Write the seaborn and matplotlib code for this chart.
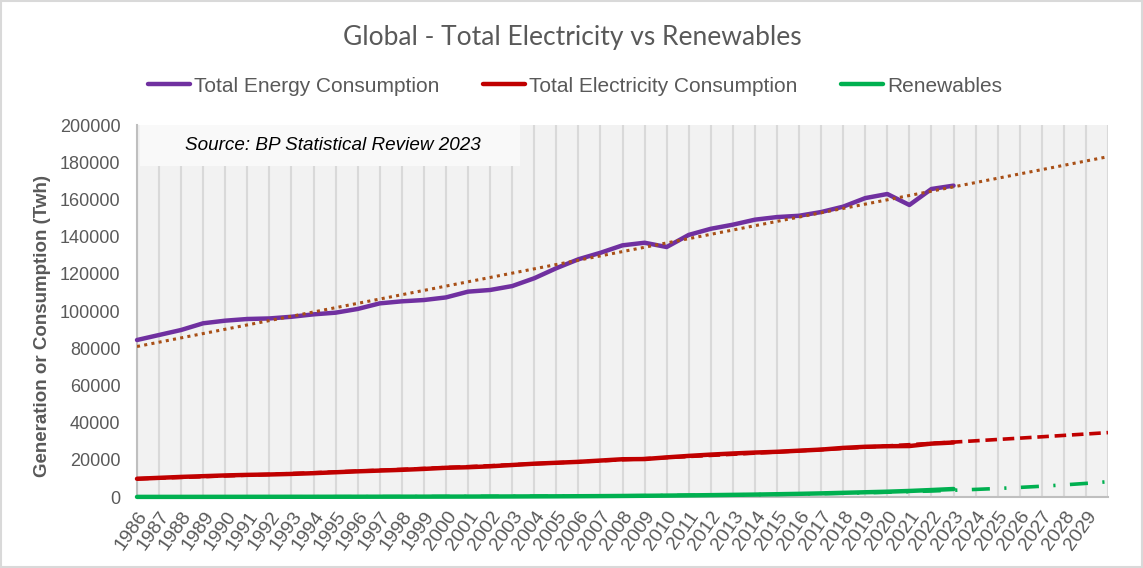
import numpy as np
import pandas as pd
import matplotlib
matplotlib.use("Agg")
import matplotlib.pyplot as plt
from matplotlib.lines import Line2D
from matplotlib.patches import Rectangle
import seaborn as sns

# data (TWh)
years = list(range(1986, 2024))
tick_years = list(range(1986, 2031))
tick_labels = [str(y) for y in range(1986, 2030)] + [""]

total_energy = [84400, 87100, 89800, 93400, 94800, 95700, 96000, 96900, 98200, 99100,
                101100, 104100, 105200, 105900, 107300, 110400, 111300, 113400, 117600, 123000,
                127800, 131300, 135300, 136700, 134400, 140900, 144200, 146400, 149100, 150500,
                151200, 153200, 156100, 160700, 162900, 157000, 165600, 167400]
total_electricity = [9800, 10300, 10800, 11200, 11600, 11900, 12100, 12400, 12800, 13300,
                     13800, 14200, 14600, 15100, 15700, 16000, 16500, 17200, 17900, 18400,
                     18900, 19600, 20300, 20400, 21300, 22100, 22800, 23400, 23900, 24300,
                     24900, 25500, 26400, 27000, 27300, 27400, 28700, 29300]
renewables = [60, 65, 70, 80, 90, 100, 110, 115, 125, 135,
              145, 160, 175, 190, 210, 230, 260, 290, 330, 370,
              420, 480, 560, 650, 750, 870, 1000, 1150, 1300, 1500,
              1700, 1950, 2250, 2550, 2850, 3250, 3750, 4300]

series_names = ["Total Energy Consumption", "Total Electricity Consumption", "Renewables"]
series_colors = ["#7030A0", "#C00000", "#00B050"]

df = pd.DataFrame({
    "Year": years * 3,
    "Value": total_energy + total_electricity + renewables,
    "Series": [n for n in series_names for _ in years],
})

sns.set_theme(style="white")
plt.rcParams["font.family"] = ["Liberation Sans", "DejaVu Sans"]

fig = plt.figure(figsize=(11.43, 5.68), dpi=100)
ax = fig.add_axes([137 / 1143, 1 - 497 / 568, (1108 - 137) / 1143, (497 - 125) / 568])
ax.set_facecolor("#F2F2F2")

sns.lineplot(data=df, x="Year", y="Value", hue="Series",
             palette=dict(zip(series_names, series_colors)),
             linewidth=3.2, ax=ax, legend=False)
for line in ax.lines:
    line.set_clip_on(False)
    line.set_solid_capstyle("round")
    line.set_zorder(3)

# trendlines (linear, polynomial, exponential), forecast to 2030
yr = np.array(years) - 1986
tx = np.array(tick_years) - 1986
energy_trend = np.polyval(np.polyfit(yr, total_energy, 1), tx)
elec_trend = np.polyval(np.polyfit(yr, total_electricity, 2), tx)
ren_trend = np.exp(np.polyval(np.polyfit(yr, np.log(renewables), 1), tx))

sns.lineplot(x=tick_years, y=energy_trend, color="#A84F16", linewidth=2.2,
             linestyle=(0, (1, 1.4)), ax=ax, zorder=4)
sns.lineplot(x=tick_years, y=elec_trend, color="#C00000", linewidth=2.6,
             linestyle=(0, (3.2, 1.6)), ax=ax, zorder=4)
sns.lineplot(x=tick_years, y=ren_trend, color="#00B050", linewidth=2.6,
             linestyle=(0, (5, 4, 0.6, 4)), ax=ax, zorder=4)

ax.set_xlim(1986, 2030)
ax.set_ylim(0, 200000)
ax.set_yticks(range(0, 200001, 20000))
ax.set_xticks(tick_years)
ax.set_xticklabels(tick_labels, rotation=55, ha="right", rotation_mode="anchor")
ax.set_xlabel("")
ax.set_ylabel("")
ax.grid(axis="x", color="#D9D9D9", linewidth=1.5)
ax.grid(axis="y", visible=False)
ax.set_axisbelow(True)
ax.tick_params(axis="both", length=0, colors="#595959")
ax.tick_params(axis="y", pad=12, labelsize=13)
ax.tick_params(axis="x", pad=8, labelsize=14)
for s in ["top", "right"]:
    ax.spines[s].set_visible(False)
for s in ["left", "bottom"]:
    ax.spines[s].set_color("#BFBFBF")
    ax.spines[s].set_linewidth(1.5)

# source box
ax.add_patch(Rectangle((3 / 971, (497 - 166) / 372), (520 - 140) / 971, 41 / 372,
                       transform=ax.transAxes, facecolor="#F9F9F9", edgecolor="none", zorder=1.5))
ax.text((333 - 137) / 971, (497 - 146) / 372, "Source: BP Statistical Review 2023",
        transform=ax.transAxes, ha="center", va="center", fontsize=13.6,
        fontstyle="italic", color="black", zorder=3)

fig.text(572 / 1143, 1 - 37 / 568, "Global - Total Electricity vs Renewables",
         ha="center", va="center", fontsize=19, color="#595959", family=["Lato", "DejaVu Sans"])
fig.text(43 / 1143, 1 - 326 / 568, "Generation or Consumption (Twh)", rotation=90,
         ha="center", va="center", fontsize=13.5, fontweight="bold", color="#595959")

handles = [Line2D([], [], color=c, linewidth=3.2, solid_capstyle="round") for c in series_colors]
fig.legend(handles, series_names, loc="center", bbox_to_anchor=(503 / 1000, 1 - 86 / 568), ncol=3,
           frameon=False, fontsize=15, labelcolor="#595959", handlelength=2.0,
           handletextpad=0.2, columnspacing=2.1)

fig.add_artist(Rectangle((0.0005, 0.001), 0.999, 0.998, transform=fig.transFigure,
                         fill=False, edgecolor="#D9D9D9", linewidth=1.5))

fig.savefig("out.png", dpi=100, facecolor="white")
